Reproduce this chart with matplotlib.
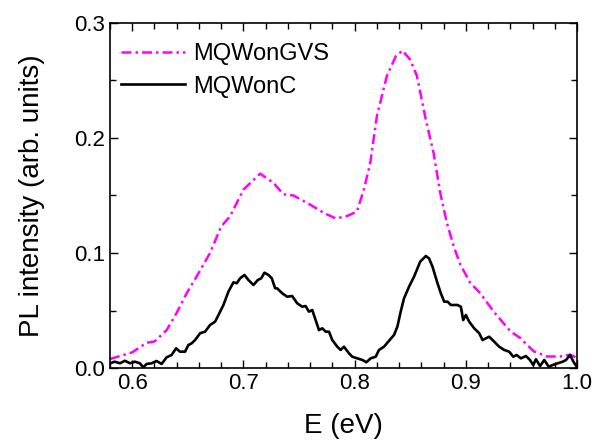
import matplotlib
matplotlib.use("Agg")
import matplotlib.pyplot as plt
from matplotlib.ticker import MultipleLocator

plt.rcParams['font.family'] = ['Liberation Sans', 'DejaVu Sans']

gvs_x = [0.58, 0.60, 0.613, 0.620, 0.631, 0.640, 0.649, 0.660, 0.670, 0.680, 0.688,
         0.700, 0.715, 0.727, 0.736, 0.745, 0.760, 0.772, 0.783, 0.793, 0.802, 0.808,
         0.814, 0.820, 0.829, 0.837, 0.843, 0.850, 0.856, 0.864, 0.871, 0.877, 0.883,
         0.889, 0.895, 0.904, 0.913, 0.925, 0.940, 0.949, 0.961, 0.973, 0.985, 0.994, 1.0]
gvs_y = [0.0078, 0.0136, 0.022, 0.023, 0.033, 0.048, 0.065, 0.083, 0.100, 0.123, 0.132,
         0.155, 0.169, 0.161, 0.151, 0.150, 0.142, 0.135, 0.130, 0.132, 0.136, 0.154,
         0.178, 0.219, 0.254, 0.271, 0.276, 0.268, 0.254, 0.216, 0.187, 0.152, 0.126,
         0.106, 0.090, 0.074, 0.065, 0.049, 0.032, 0.026, 0.0145, 0.010, 0.010, 0.0116, 0.0087]

c_x = [0.5799, 0.5844, 0.5890, 0.5934, 0.5980, 0.6024, 0.6069, 0.6099, 0.6129, 0.6174,
       0.6219, 0.6264, 0.6309, 0.6354, 0.6394, 0.6430, 0.6475, 0.6505, 0.6535, 0.6565,
       0.6610, 0.6655, 0.6700, 0.6745, 0.6775, 0.6820, 0.6865, 0.6910, 0.6940, 0.6970,
       0.7009, 0.7045, 0.7090, 0.7129, 0.7160, 0.7189, 0.7225, 0.7255, 0.7285,
       0.7303, 0.7348, 0.7393, 0.7438, 0.7483, 0.7528, 0.7559, 0.7589, 0.7619, 0.7649,
       0.7679, 0.7709, 0.7739, 0.7769, 0.7799, 0.7844, 0.7874, 0.7904, 0.7949, 0.7979,
       0.8024, 0.8069, 0.8105, 0.8144, 0.8189, 0.8219, 0.8264, 0.8309, 0.8354, 0.8384,
       0.8414, 0.8444, 0.8489, 0.8534, 0.8565, 0.8589, 0.8640, 0.8669,
       0.8700, 0.8745, 0.8775, 0.8805, 0.8835, 0.8865, 0.8895, 0.8925, 0.8955, 0.8976,
       0.9000, 0.9030, 0.9075, 0.9120, 0.9150, 0.9180, 0.9210, 0.9255, 0.9300, 0.9345,
       0.9390, 0.9426, 0.9456, 0.9495, 0.9540, 0.9576, 0.9606, 0.9630, 0.9667, 0.9705,
       0.9745, 0.9781, 0.9826, 0.9871, 0.9901, 0.9937, 0.9967, 0.9997]
c_y = [0.0041, 0.0055, 0.0041, 0.0063, 0.0041, 0.0055, 0.0041, 0.0006, 0.0035, 0.0041,
       0.0061, 0.0035, 0.0093, 0.0113, 0.0171, 0.0142, 0.0142, 0.0200, 0.0215, 0.0243,
       0.0302, 0.0316, 0.0374, 0.0403, 0.0460, 0.0548, 0.0664, 0.0745, 0.0737, 0.0780,
       0.0809, 0.0765, 0.0722, 0.0765, 0.0780, 0.0829, 0.0809, 0.0780, 0.0693,
       0.0693, 0.0650, 0.0620, 0.0626, 0.0563, 0.0533, 0.0539, 0.0490, 0.0504, 0.0417,
       0.0330, 0.0345, 0.0316, 0.0316, 0.0243, 0.0185, 0.0157, 0.0185, 0.0128, 0.0098,
       0.0084, 0.0070, 0.0050, 0.0084, 0.0098, 0.0157, 0.0185, 0.0237, 0.0287, 0.0359,
       0.0490, 0.0606, 0.0707, 0.0794, 0.0867, 0.0924, 0.0974, 0.0953,
       0.0881, 0.0737, 0.0650, 0.0577, 0.0577, 0.0548, 0.0548, 0.0548, 0.0533, 0.0417,
       0.0461, 0.0403, 0.0345, 0.0302, 0.0243, 0.0258, 0.0272, 0.0229, 0.0185, 0.0157,
       0.0142, 0.0098, 0.0113, 0.0084, 0.0104, 0.0070, 0.0026, 0.0076, 0.0017, 0.0070,
       0.0011, 0.0026, 0.0041, 0.0055, 0.0070, 0.0113, 0.0055, 0.0011]

fig = plt.figure(figsize=(6.03, 4.42), dpi=100)
ax = fig.add_axes([0.1824, 0.1674, 0.7746, 0.7806])

ax.plot(gvs_x, gvs_y, color='#ff00ff', lw=1.8, linestyle=(0, (4, 1.6, 1, 1.6)), label='MQWonGVS')
ax.plot(c_x, c_y, color='black', lw=1.9, label='MQWonC')

ax.set_xlim(0.58, 1.0)
ax.set_ylim(0, 0.3)
ax.xaxis.set_major_locator(MultipleLocator(0.1))
ax.xaxis.set_minor_locator(MultipleLocator(0.02))
ax.yaxis.set_major_locator(MultipleLocator(0.1))
ax.yaxis.set_minor_locator(MultipleLocator(0.05))
ax.tick_params(which='both', direction='in', top=True, right=True, labelsize=16, width=1)
ax.tick_params(which='major', length=6)
ax.tick_params(which='minor', length=4)
ax.xaxis.set_major_formatter(plt.FormatStrFormatter('%.1f'))
ax.yaxis.set_major_formatter(plt.FormatStrFormatter('%.1f'))
for s in ax.spines.values():
    s.set_linewidth(1.2)

ax.set_xlabel('E (eV)', fontsize=20, labelpad=14)
ax.set_ylabel('PL intensity (arb. units)', fontsize=20, labelpad=21)

ax.legend(loc='upper left', fontsize=17, frameon=False, handlelength=2.7,
          handletextpad=0.35, borderaxespad=0.3, labelspacing=0.45,
          bbox_to_anchor=(-0.012, 0.99))

fig.savefig('out.png', dpi=100)
